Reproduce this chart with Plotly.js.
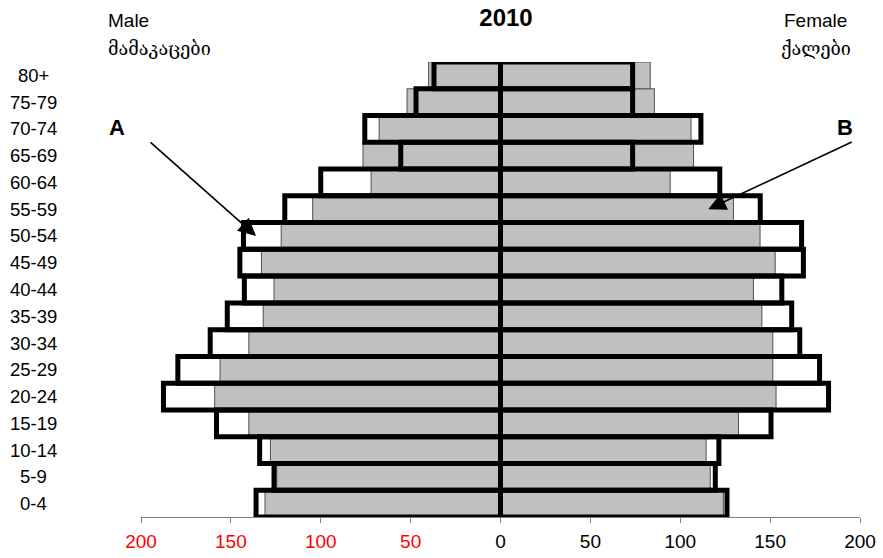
<!DOCTYPE html>
<html>
<head>
<meta charset="utf-8">
<script src="https://cdn.plot.ly/plotly-3.0.1.min.js"></script>
<style>html,body{margin:0;padding:0;background:#fff;}#chart{width:883px;height:558px;}</style>
</head>
<body>
<div id="chart"></div>
<script>
// Age groups, bottom to top
const ageGroups = ["0-4","5-9","10-14","15-19","20-24","25-29","30-34","35-39","40-44","45-49","50-54","55-59","60-64","65-69","70-74","75-79","80+"];

// Outlined (white, thick black border) series
const maleOutline   = [136,126,134,158,187.5,179.5,161.5,152,142.5,145,143,120,100,55.5,75.5,47,37];
const femaleOutline = [126,119.5,121.5,150.5,182.5,177.5,166.5,162,156.5,168.5,167.5,144.5,122,73.5,111.5,73.5,73.5];

// Gray filled series
const maleGray   = [131,124.5,128,140,159,156,140,132,126,133,122,104.5,72,76.5,67.5,52,40];
const femaleGray = [124,116.7,114.4,132.4,153.3,151.5,151.5,145.4,140.7,152.8,144.4,129.6,94.4,107.4,106,85.6,83.3];

// Axis ticks
const tickValues = [-200,-150,-100,-50,0,50,100,150,200];
const tickLabels = ["200","150","100","50","0","50","100","150","200"];
const tickColors = ["red","red","red","red","black","black","black","black","black"];

const titleText = "2010";
const maleLabels = ["Male","მამაკაცები"];
const femaleLabels = ["Female","ქალები"];

const FONT = "Liberation Sans, Arial, sans-serif";
const GEO_FONT = "DejaVu Serif, DejaVu Sans, serif";

const neg = a => a.map(v => -v);

const grayStyle = {color:"#c0c0c0", line:{color:"#505050", width:1}};
const outlineStyle = {color:"rgba(255,255,255,0)", line:{color:"#000000", width:5}};

const traces = [
  {type:"bar", orientation:"h", y:ageGroups, x:neg(maleGray), marker:grayStyle, hoverinfo:"skip"},
  {type:"bar", orientation:"h", y:ageGroups, x:femaleGray, marker:grayStyle, hoverinfo:"skip"},
  {type:"bar", orientation:"h", y:ageGroups, x:neg(maleOutline), marker:outlineStyle, hoverinfo:"skip"},
  {type:"bar", orientation:"h", y:ageGroups, x:femaleOutline, marker:outlineStyle, hoverinfo:"skip"}
];

const plotTop = 62, plotBottom = 517, plotH = plotBottom - plotTop;
const py = Y => (plotBottom - Y) / plotH;
const px = X => (X - 141) / 719;

const annotations = [];
ageGroups.forEach(g => annotations.push({
  xref:"paper", yref:"y", x:px(34), y:g, text:g, showarrow:false,
  xanchor:"center", yanchor:"middle", font:{family:FONT, size:18.5, color:"#000"}
}));
annotations.push({xref:"paper", yref:"paper", x:px(106), y:py(20), text:maleLabels[0], showarrow:false, xanchor:"left", yanchor:"middle", font:{family:FONT,size:19,color:"#000"}});
annotations.push({xref:"paper", yref:"paper", x:px(106), y:py(48), text:maleLabels[1], showarrow:false, xanchor:"left", yanchor:"middle", font:{family:GEO_FONT,size:18,color:"#000"}});
annotations.push({xref:"paper", yref:"paper", x:px(815.5), y:py(20), text:femaleLabels[0], showarrow:false, xanchor:"center", yanchor:"middle", font:{family:FONT,size:19,color:"#000"}});
annotations.push({xref:"paper", yref:"paper", x:px(816), y:py(48), text:femaleLabels[1], showarrow:false, xanchor:"center", yanchor:"middle", font:{family:GEO_FONT,size:18,color:"#000"}});
// A and B labels
annotations.push({xref:"paper", yref:"paper", x:px(116.5), y:py(127), text:"<b>A</b>", showarrow:false, xanchor:"center", yanchor:"middle", font:{family:FONT,size:22,color:"#000"}});
annotations.push({xref:"paper", yref:"paper", x:px(845), y:py(127), text:"<b>B</b>", showarrow:false, xanchor:"center", yanchor:"middle", font:{family:FONT,size:22,color:"#000"}});
// Arrows
annotations.push({xref:"x", yref:"y", x:-136, y:"50-54", ax:-107, ay:-95, text:"", showarrow:true, arrowhead:2, arrowsize:2.2, arrowwidth:1.6, arrowcolor:"#000", standoff:0, startstandoff:0});
annotations.push({xref:"x", yref:"y", x:115.6, y:"55-59", ax:145, ay:-68, text:"", showarrow:true, arrowhead:2, arrowsize:2.2, arrowwidth:1.6, arrowcolor:"#000", standoff:0, startstandoff:0});

const layout = {
  width:883, height:558,
  margin:{l:141, r:23, t:plotTop, b:558-plotBottom, pad:0},
  paper_bgcolor:"#fff", plot_bgcolor:"#fff",
  showlegend:false,
  barmode:"overlay", bargap:0,
  title:{text:"<b>"+titleText+"</b>", xref:"container", x:506/883, xanchor:"center", yref:"container", y:1-18/558, yanchor:"middle", font:{family:FONT,size:24,color:"#000"}},
  xaxis:{
    range:[-200,200], tickmode:"array", tickvals:tickValues,
    ticktext:tickLabels.map((t,i)=>'<span style="color:'+tickColors[i]+'">'+t+'</span>'),
    showgrid:false, zeroline:false, showline:true, linecolor:"#808080", linewidth:1,
    ticks:"outside", ticklen:5, tickcolor:"#808080", tickwidth:1,
    tickfont:{family:FONT,size:19,color:"#000"}, ticklabelstandoff:2, fixedrange:true
  },
  yaxis:{
    type:"category", categoryorder:"array", categoryarray:ageGroups,
    range:[-0.5,16.5], showticklabels:false, showgrid:false, zeroline:false, showline:false, ticks:"", fixedrange:true
  },
  annotations:annotations
};

Plotly.newPlot("chart", traces, layout, {displayModeBar:false, staticPlot:true});
</script>
</body>
</html>
